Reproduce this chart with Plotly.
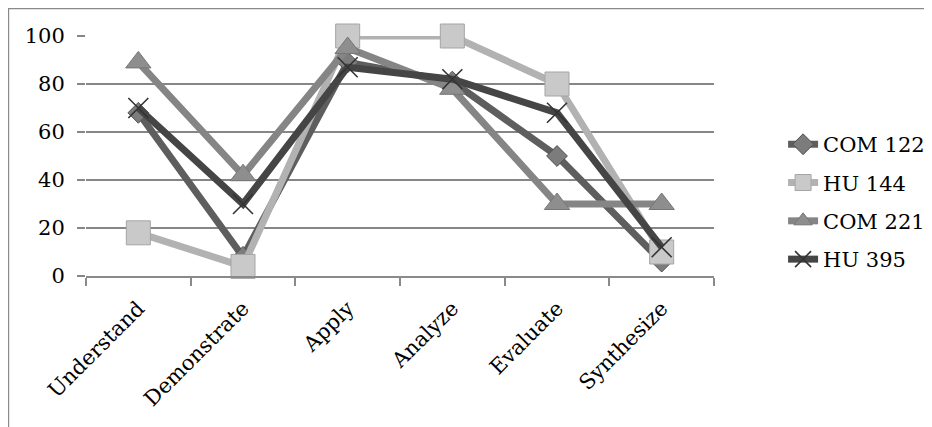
import plotly.graph_objects as go

categories = ["Understand", "Demonstrate", "Apply", "Analyze", "Evaluate", "Synthesize"]
series_names = ["COM 122", "HU 144", "COM 221", "HU 395"]
com122 = [68, 8, 89, 81, 50, 6]
hu144 = [18, 4, 100, 100, 80, 10]
com221 = [89, 42, 95, 78, 30, 30]
hu395 = [70, 30, 87, 82, 68, 12]
y_ticks = [0, 20, 40, 60, 80, 100]

values = [com122, hu144, com221, hu395]
line_colors = ["#5e5e5e", "#b2b2b2", "#858585", "#454545"]
marker_fill = ["#7c7c7c", "#c9c9c9", "#8e8e8e", "#454545"]
marker_edge = ["#505050", "#a5a5a5", "#767676", "#333333"]
symbols = ["diamond", "square", "triangle-up", "x-thin"]
sizes = [16, 24, 22, 20]

FONT = "DejaVu Serif"
FS = 21

# page body adds an 8px offset; compensate in margins/size
L, T, R, B = 78, 28, 218, 151
W, H = 924, 419
PW, PH = W - L - R, H - T - B

fig = go.Figure()
for i, (name, vals, lc, mf, me, sym, sz) in enumerate(zip(series_names, values, line_colors,
                                                         marker_fill, marker_edge, symbols, sizes)):
    if sym == "x-thin":
        marker = dict(symbol=sym, size=sz, color=mf, line=dict(color=me, width=1.6))
    else:
        marker = dict(symbol=sym, size=sz, color=mf, line=dict(color=me, width=1))
    fig.add_trace(go.Scatter(
        x=categories, y=vals, name=name, mode="lines+markers", legendgroup=f"g{i}",
        line=dict(color=lc, width=7), marker=marker, cliponaxis=False,
    ))

fig.update_layout(
    width=W, height=H,
    margin=dict(l=L, r=R, t=T, b=B, autoexpand=False),
    paper_bgcolor="white", plot_bgcolor="white",
    font=dict(family=FONT, size=FS, color="#000000"),
    showlegend=True,
    legend=dict(x=1.11, y=0.308, xanchor="left", yanchor="middle",
                font=dict(family=FONT, size=FS, color="#000000"),
                bgcolor="rgba(0,0,0,0)", tracegroupgap=8),
    xaxis=dict(
        type="category", range=[-0.5, 5.5], tickangle=-45, automargin=False,
        showline=True, linecolor="#8a8a8a", linewidth=1.5,
        ticks="outside", ticklen=8, tickcolor="#8a8a8a", tickwidth=1.5,
        tickson="boundaries", showgrid=False, zeroline=False, ticklabelstandoff=10,
        tickfont=dict(family=FONT, size=FS, color="#000000"),
    ),
    yaxis=dict(
        range=[0, 100], tickvals=y_ticks, ticktext=[str(v) for v in y_ticks],
        showline=False, showgrid=True, gridcolor="#868686", gridwidth=1.5,
        ticks="outside", ticklen=8, tickcolor="#868686", tickwidth=1.5,
        zeroline=False, ticklabelstandoff=8, automargin=False,
        tickfont=dict(family=FONT, size=FS, color="#000000"),
    ),
    shapes=[dict(type="rect", xref="paper", yref="paper",
                 x0=-(L - 0.6) / PW, x1=1.5, y0=-1.0, y1=1 + (T - 0.6) / PH,
                 line=dict(color="#8a8a8a", width=1.2), fillcolor="rgba(0,0,0,0)",
                 layer="below")],
)

fig.write_html("out.html")
